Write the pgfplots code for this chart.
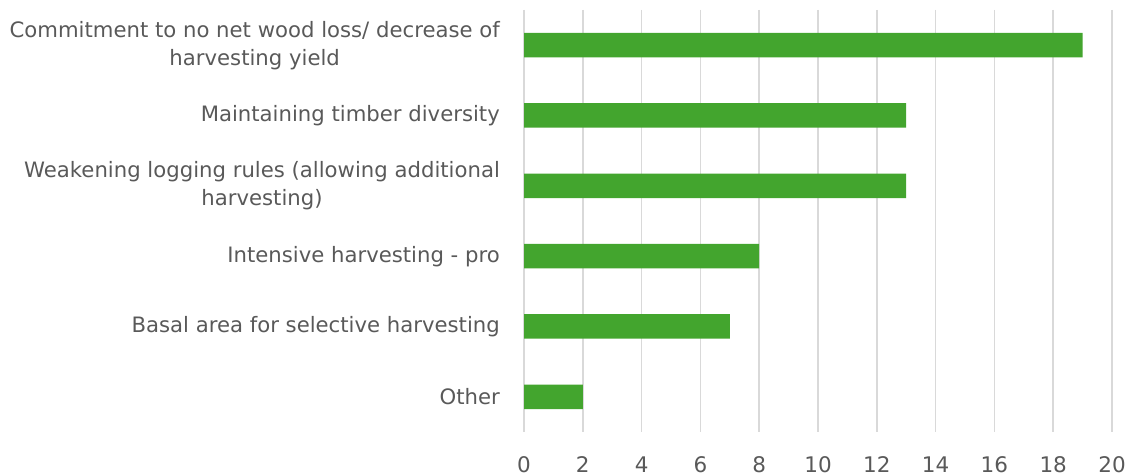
\documentclass[border=0pt]{standalone}
\usepackage{pgfplots}
\pgfplotsset{compat=1.18}
\usepackage{fontspec}
\setmainfont{DejaVu Sans}
\definecolor{barGreen}{RGB}{67,165,46}
\definecolor{gridGray}{RGB}{217,217,217}
\definecolor{textGray}{RGB}{89,89,89}
\begin{document}
\begin{tikzpicture}[x=1bp,y=1bp]
\path[use as bounding box] (0,0) rectangle (1132,476);
\begin{axis}[
  at={(524bp,44bp)}, anchor=south west,
  scale only axis, width=588bp, height=422bp,
  xmin=0, xmax=20, xtick={0,2,...,20},
  ymin=-0.5, ymax=5.5, y dir=reverse,
  ytick={0,1,2,3,4,5},
  yticklabels={
    {Commitment to no net wood loss/ decrease of\\harvesting yield},
    {Maintaining timber diversity},
    {Weakening logging rules (allowing additional\\harvesting)},
    {Intensive harvesting - pro},
    {Basal area for selective harvesting},
    {Other}},
  xbar, bar width=24.5bp,
  axis line style={draw=none},
  major tick length=0pt,
  xmajorgrids, major grid style={gridGray, line width=1.5bp},
  /pgf/number format/assume math mode=true,
  yticklabel style={font=\fontsize{21.2bp}{28bp}\selectfont, text=textGray,
    align=center, inner sep=0pt, xshift=-24bp},
  xticklabel style={font=\fontsize{21.5bp}{24bp}\selectfont, text=textGray,
    inner sep=0pt, text height=16bp, text depth=0pt, anchor=north, yshift=-24bp},
]
\addplot[fill=barGreen, draw=none] coordinates {
  (19,0) (13,1) (13,2) (8,3) (7,4) (2,5)
};
\end{axis}
\end{tikzpicture}
\end{document}
